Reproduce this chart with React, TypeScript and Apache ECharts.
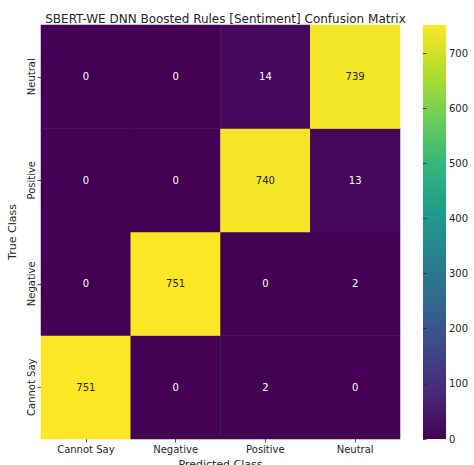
import React, { useEffect, useRef } from "react";
import * as echarts from "echarts";

const titleText = "SBERT-WE DNN Boosted Rules [Sentiment] Confusion Matrix";
const predictedClasses = ["Cannot Say", "Negative", "Positive", "Neutral"];
// y axis categories, bottom to top
const trueClasses = ["Cannot Say", "Negative", "Positive", "Neutral"];
// rows: counts per predicted class for each true class
const rowCannotSay = [751, 0, 2, 0];
const rowNegative = [0, 751, 0, 2];
const rowPositive = [0, 0, 740, 13];
const rowNeutral = [0, 0, 14, 739];
const rows = [rowCannotSay, rowNegative, rowPositive, rowNeutral];
const colorMin = 0;
const colorMax = 751;
const colorbarInterval = 100;

const viridis = [
  "#440154",
  "#482878",
  "#3e4989",
  "#31688e",
  "#26828e",
  "#1f9e89",
  "#35b779",
  "#6ece58",
  "#b5de2b",
  "#fde725",
];

const FONT = "DejaVu Sans";
const TEXT = "#262626";

export default function App() {
  const ref = useRef<HTMLDivElement>(null);
  useEffect(() => {
    document.body.style.margin = "0";
    if (!ref.current) return;
    const chart = echarts.init(ref.current, undefined, { renderer: "svg" });
    const data: any[] = [];
    rows.forEach((row, yi) => {
      row.forEach((v, xi) => {
        data.push({
          value: [xi, yi, v],
          label: { color: v > colorMax / 2 ? TEXT : "#ffffff" },
        });
      });
    });
    const gridL = 41, gridT = 25, gridW = 359, gridH = 414;
    const cbL = 423, cbW = 23;
    chart.setOption({
      animation: false,
      textStyle: { fontFamily: FONT },
      title: {
        text: titleText,
        left: gridL + gridW / 2,
        textAlign: "center",
        top: 8,
        textStyle: { fontFamily: FONT, fontSize: 12, fontWeight: "normal", color: TEXT },
      },
      grid: [
        { left: gridL, top: gridT, width: gridW, height: gridH, outerBoundsMode: "none", containLabel: false },
        { left: cbL, top: gridT, width: cbW, height: gridH, outerBoundsMode: "none", containLabel: false },
      ],
      xAxis: [
        {
          type: "category",
          gridIndex: 0,
          data: predictedClasses,
          name: "Predicted Class",
          nameLocation: "middle",
          nameGap: 19,
          nameTextStyle: { fontFamily: FONT, fontSize: 11, color: TEXT },
          axisLine: { show: false },
          axisTick: { show: true, alignWithLabel: true, length: 3.5, lineStyle: { color: TEXT, width: 0.8 } },
          axisLabel: { fontFamily: FONT, fontSize: 10, color: TEXT, margin: 5 },
          splitLine: { show: false },
        },
        {
          type: "value",
          gridIndex: 1,
          show: false,
        },
      ],
      yAxis: [
        {
          type: "category",
          gridIndex: 0,
          data: trueClasses,
          name: "True Class",
          nameLocation: "middle",
          nameGap: 22,
          nameRotate: 90,
          nameTextStyle: { fontFamily: FONT, fontSize: 11, color: TEXT },
          axisLine: { show: false },
          axisTick: { show: true, alignWithLabel: true, length: 3.5, lineStyle: { color: TEXT, width: 0.8 } },
          axisLabel: { fontFamily: FONT, fontSize: 10, color: TEXT, rotate: 90, margin: 5 },
          splitLine: { show: false },
        },
        {
          type: "value",
          gridIndex: 1,
          position: "right",
          min: colorMin,
          max: colorMax,
          interval: colorbarInterval,
          axisLine: { show: false },
          axisTick: { show: true, length: 3.5, lineStyle: { color: TEXT, width: 0.8 } },
          axisLabel: { fontFamily: FONT, fontSize: 10, color: TEXT, margin: 3, showMaxLabel: false },
          splitLine: { show: false },
        },
      ],
      visualMap: {
        show: false,
        type: "continuous",
        min: colorMin,
        max: colorMax,
        seriesIndex: 0,
        inRange: { color: viridis },
      },
      graphic: [
        {
          type: "rect",
          shape: { x: cbL, y: gridT, width: cbW, height: gridH },
          style: {
            fill: new echarts.graphic.LinearGradient(
              0,
              1,
              0,
              0,
              viridis.map((c, i) => ({ offset: i / (viridis.length - 1), color: c }))
            ),
          },
          silent: true,
          z: 0,
        },
      ],
      series: [
        {
          type: "heatmap",
          xAxisIndex: 0,
          yAxisIndex: 0,
          data,
          label: { show: true, fontFamily: FONT, fontSize: 10 },
          itemStyle: { borderWidth: 0 },
          emphasis: { disabled: true },
        },
      ],
    });
    return () => chart.dispose();
  }, []);
  return <div ref={ref} style={{ width: 474, height: 465 }} />;
}
